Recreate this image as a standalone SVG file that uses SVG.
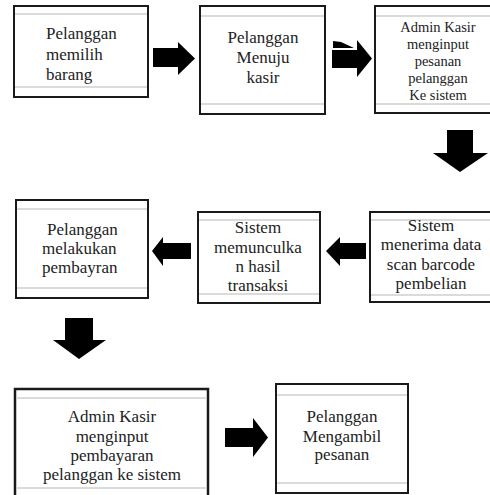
<svg xmlns="http://www.w3.org/2000/svg" width="490" height="495" viewBox="0 0 490 495">
<style>
.box{fill:#fff;stroke:#1a1a1a;stroke-width:2}
.in{stroke:#cfcfcf;stroke-width:1.5}
text{font-family:'Liberation Serif',Tinos,'Times New Roman',Times,serif;font-size:17px;fill:#222}
.s{font-size:14.5px}
.c{text-anchor:middle}
.arr{fill:#000}
</style>
<rect width="490" height="495" fill="#fff"/>
<g id="n1">
<rect class="box" x="14" y="6" width="134" height="91"/>
<line class="in" x1="15" y1="14" x2="147" y2="14"/><line class="in" x1="15" y1="87" x2="147" y2="87"/>
<text x="46" y="39">Pelanggan</text><text x="46" y="60">memilih</text><text x="46" y="80">barang</text>
</g>
<g id="n2">
<rect class="box" x="200" y="6" width="125" height="108"/>
<line class="in" x1="201" y1="16" x2="324" y2="16"/><line class="in" x1="201" y1="104" x2="324" y2="104"/>
<text class="c" x="263" y="43">Pelanggan</text><text class="c" x="263" y="63">Menuju</text><text class="c" x="263" y="83">kasir</text>
</g>
<g id="n3">
<rect class="box" x="375" y="6" width="125" height="107"/>
<line class="in" x1="376" y1="16" x2="490" y2="16"/><line class="in" x1="376" y1="104" x2="490" y2="104"/>
<text class="s c" x="438" y="32">Admin Kasir</text><text class="s c" x="438" y="49">menginput</text><text class="s c" x="438" y="66">pesanan</text><text class="s c" x="438" y="83">pelanggan</text><text class="s c" x="438" y="100">Ke sistem</text>
</g>
<g id="n4">
<rect class="box" x="16" y="200" width="132" height="98"/>
<line class="in" x1="17" y1="209" x2="147" y2="209"/><line class="in" x1="17" y1="288" x2="147" y2="288"/>
<text x="47" y="235">Pelanggan</text><text x="42" y="254">melakukan</text><text x="42" y="273">pembayran</text>
</g>
<g id="n5">
<rect class="box" x="198" y="212" width="122" height="91"/>
<line class="in" x1="199" y1="220" x2="319" y2="220"/><line class="in" x1="199" y1="294" x2="319" y2="294"/>
<text class="c" x="258" y="233">Sistem</text><text class="c" x="258" y="253">memunculka</text><text class="c" x="258" y="272">n hasil</text><text class="c" x="258" y="291">transaksi</text>
</g>
<g id="n6">
<rect class="box" x="370" y="212" width="130" height="90"/>
<line class="in" x1="371" y1="220" x2="490" y2="220"/><line class="in" x1="371" y1="295" x2="490" y2="295"/>
<text class="c" x="431" y="231">Sistem</text><text class="c" x="431" y="250">menerima data</text><text class="c" x="431" y="270">scan barcode</text><text class="c" x="431" y="289">pembelian</text>
</g>
<g id="n7">
<rect class="box" x="15" y="389" width="193" height="110" style="stroke-width:2.5"/>
<line class="in" x1="16" y1="398" x2="207" y2="398"/><line class="in" x1="16" y1="488" x2="207" y2="488"/>
<text class="c" x="112" y="422">Admin Kasir</text><text class="c" x="112" y="442">menginput</text><text class="c" x="112" y="461">pembayaran</text><text class="c" x="112" y="480">pelanggan ke sistem</text>
</g>
<g id="n8">
<rect class="box" x="276" y="384" width="132" height="109"/>
<line class="in" x1="277" y1="395" x2="407" y2="395"/><line class="in" x1="277" y1="483" x2="407" y2="483"/>
<text class="c" x="342" y="422">Pelanggan</text><text class="c" x="342" y="442">Mengambil</text><text class="c" x="342" y="460">pesanan</text>
</g>
<g id="connectors">
<polygon class="arr" points="153,48 178,48 178,42 195,58.5 178,75 178,67 153,67"/>
<polygon class="arr" points="332,50 357,50 357,40 372,58.5 357,77 357,68 332,68"/>
<polygon class="arr" points="333,41 341,42 354,48 333,48"/>
<polygon class="arr" points="447,130 473,130 473,153 488,153 460,172 433,153 447,153"/>
<polygon class="arr" points="191,243 163,243 163,237 152,251 163,266 163,259 191,259"/>
<polygon class="arr" points="366,243 340,243 340,237 326,251 340,266 340,259 366,259"/>
<polygon class="arr" points="65,318 93,318 93,340 106,340 79,359 53,340 65,340"/>
<polygon class="arr" points="225,428 253,428 253,418 268,437.5 253,457 253,447 225,447"/>
</g>
</svg>
